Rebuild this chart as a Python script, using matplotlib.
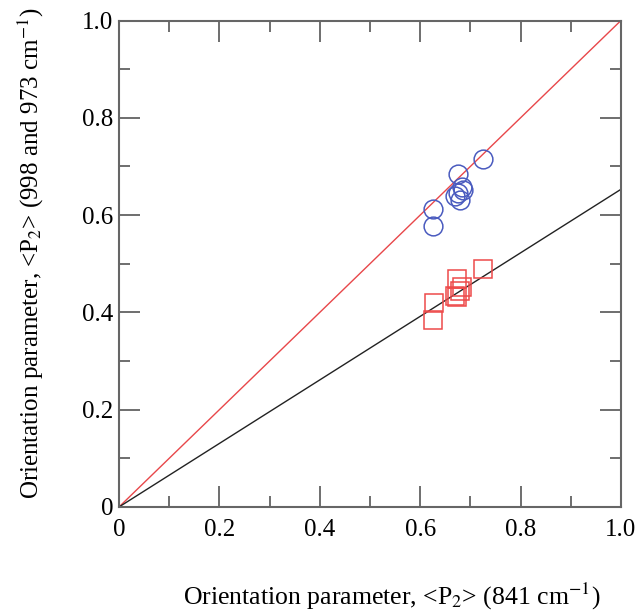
import matplotlib
matplotlib.use('Agg')
import matplotlib.pyplot as plt
from matplotlib.ticker import MultipleLocator

plt.rcParams['font.family'] = ['Liberation Serif', 'DejaVu Serif']
plt.rcParams['mathtext.fontset'] = 'stix'

# circles: 998 / 973 cm-1 band vs 841 cm-1
circle_x = [0.726, 0.676, 0.683, 0.686, 0.676, 0.669, 0.679, 0.626, 0.626]
circle_y = [0.715, 0.684, 0.658, 0.652, 0.645, 0.639, 0.631, 0.612, 0.578]

# squares
square_x = [0.726, 0.674, 0.683, 0.679, 0.673, 0.669, 0.627, 0.626]
square_y = [0.489, 0.468, 0.453, 0.443, 0.432, 0.434, 0.419, 0.384]

# reference lines through origin
red_slope = 1.0
black_slope = 0.653
line_x = [0, 1]

tick_vals = [0, 0.2, 0.4, 0.6, 0.8, 1.0]
tick_labels = ['0', '0.2', '0.4', '0.6', '0.8', '1.0']

fig = plt.figure(figsize=(6.37, 6.14), dpi=100)
ax = fig.add_axes([0.1868, 0.1743, 0.788, 0.7923])

ax.plot(line_x, [red_slope * v for v in line_x], color='#e8474a', lw=1.0)
ax.plot(line_x, [black_slope * v for v in line_x], color='#222222', lw=1.0)

ax.plot(circle_x, circle_y, 'o', ms=13.5, mfc='none', mec='#4a5bbf', mew=1.1)
ax.plot(square_x, square_y, 's', ms=13.5, mfc='none', mec='#ee4a4a', mew=1.1)

ax.set_xlim(0, 1)
ax.set_ylim(0, 1)
ax.set_xticks(tick_vals)
ax.set_xticklabels(tick_labels)
ax.set_yticks(tick_vals)
ax.set_yticklabels(tick_labels)
ax.xaxis.set_minor_locator(MultipleLocator(0.1))
ax.yaxis.set_minor_locator(MultipleLocator(0.1))
ax.tick_params(which='both', direction='in', top=True, right=True,
               color='#555555', width=1.2, labelsize=18)
ax.tick_params(axis='y', pad=4)
ax.tick_params(axis='x', pad=9)
ax.tick_params(which='major', length=15)
ax.tick_params(which='minor', length=8)
for s in ax.spines.values():
    s.set_color('#666666')
    s.set_linewidth(1.5)

ax.set_xlabel(r'Orientation parameter, <P$_2$> (841 cm$^{-1}$)', fontsize=18.5)
ax.set_ylabel(r'Orientation parameter, <P$_2$> (998 and 973 cm$^{-1}$)', fontsize=18)
ax.xaxis.set_label_coords(0.544, -0.152)
ax.yaxis.set_label_coords(-0.145, 0.522)

fig.savefig('out.png', dpi=100)
